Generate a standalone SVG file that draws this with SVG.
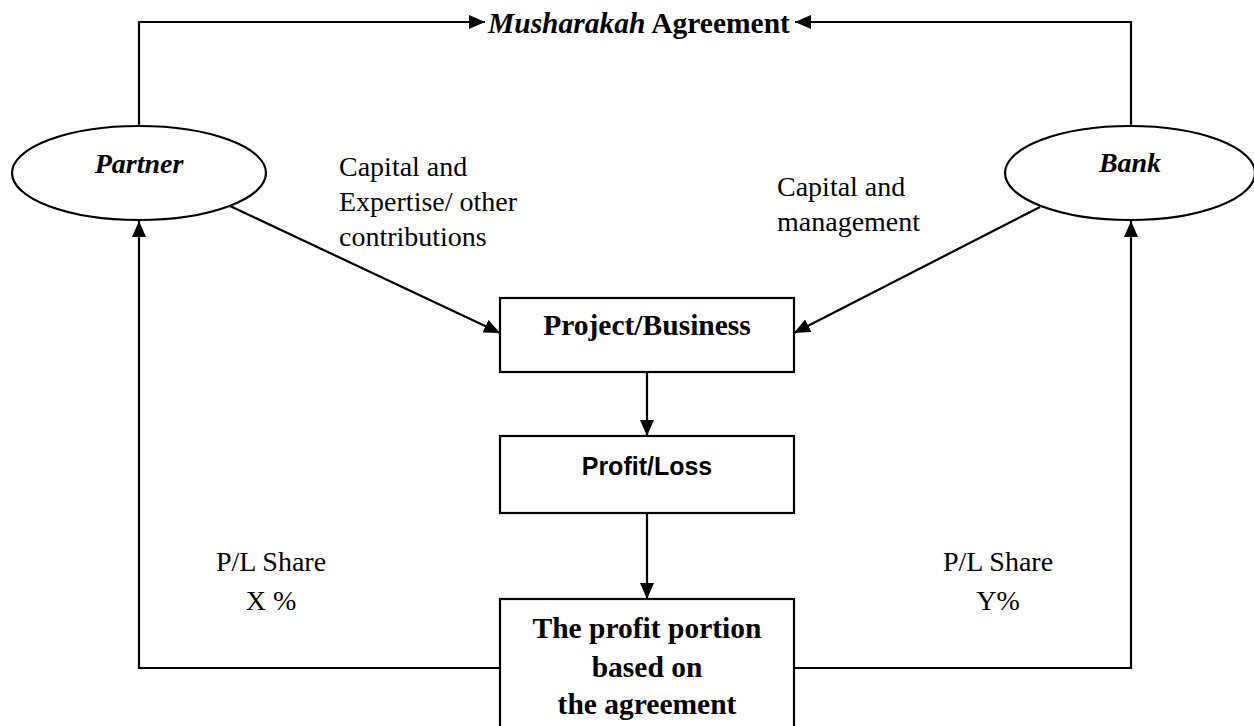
<svg xmlns="http://www.w3.org/2000/svg" width="1254" height="726" viewBox="0 0 1254 726">
  <style>
    .ln { stroke: #000; stroke-width: 2.2; fill: none; }
    .bx { stroke: #000; stroke-width: 2.2; fill: #fff; }
    .serif { font-family: "Liberation Serif", "Times New Roman", serif; font-size: 28px; fill: #000; }
    .b { font-weight: bold; font-size: 29.5px; }
    .bi { font-weight: bold; font-style: italic; }
    .sans { font-family: "Liberation Sans", Arial, sans-serif; font-size: 25px; font-weight: bold; fill: #000; }
  </style>
  <defs>
    <marker id="ah" viewBox="0 0 16 14" refX="16" refY="7" markerWidth="16" markerHeight="14" markerUnits="userSpaceOnUse" orient="auto">
      <path d="M0,0 L16,7 L0,14 Z" fill="#000"/>
    </marker>
  </defs>
  <rect width="1254" height="726" fill="#fff"/>

  <g id="connectors">
    <polyline class="ln" points="139,126 139,22 485,22" marker-end="url(#ah)"/>
    <polyline class="ln" points="1131,126 1131,22 795,22" marker-end="url(#ah)"/>
    <line class="ln" x1="230" y1="206" x2="500" y2="333" marker-end="url(#ah)"/>
    <line class="ln" x1="1040" y1="207" x2="794" y2="333" marker-end="url(#ah)"/>
    <line class="ln" x1="647" y1="372" x2="647" y2="436" marker-end="url(#ah)"/>
    <line class="ln" x1="647" y1="513" x2="647" y2="599" marker-end="url(#ah)"/>
    <polyline class="ln" points="500,668 139,668 139,221" marker-end="url(#ah)"/>
    <polyline class="ln" points="794,668 1131,668 1131,221" marker-end="url(#ah)"/>
  </g>

  <g id="agreement">
    <text class="serif" x="488" y="33" style="font-size:29.5px"><tspan class="bi">Musharakah</tspan><tspan style="font-weight:bold"> Agreement</tspan></text>
  </g>

  <g id="partner">
    <ellipse class="bx" cx="139" cy="173" rx="127" ry="47"/>
    <text class="serif bi" x="139" y="173" text-anchor="middle">Partner</text>
  </g>

  <g id="bank">
    <ellipse class="bx" cx="1130" cy="173" rx="125" ry="47"/>
    <text class="serif bi" x="1130" y="172" text-anchor="middle">Bank</text>
  </g>

  <g id="label-partner-contrib">
    <text class="serif" x="339" y="176">Capital and</text>
    <text class="serif" x="339" y="211">Expertise/ other</text>
    <text class="serif" x="339" y="246">contributions</text>
  </g>

  <g id="label-bank-contrib">
    <text class="serif" x="777" y="196">Capital and</text>
    <text class="serif" x="777" y="231">management</text>
  </g>

  <g id="project">
    <rect class="bx" x="500" y="298" width="294" height="74"/>
    <text class="serif b" x="647" y="335" text-anchor="middle">Project/Business</text>
  </g>

  <g id="profitloss">
    <rect class="bx" x="500" y="436" width="294" height="77"/>
    <text class="sans" x="647" y="475" text-anchor="middle">Profit/Loss</text>
  </g>

  <g id="portion">
    <rect class="bx" x="500" y="599" width="294" height="140"/>
    <text class="serif b" x="647" y="638" text-anchor="middle">The profit portion</text>
    <text class="serif b" x="647" y="677" text-anchor="middle">based on</text>
    <text class="serif b" x="647" y="714" text-anchor="middle">the agreement</text>
  </g>

  <g id="label-x">
    <text class="serif" x="271" y="571" text-anchor="middle">P/L Share</text>
    <text class="serif" x="271" y="610" text-anchor="middle">X %</text>
  </g>

  <g id="label-y">
    <text class="serif" x="998" y="571" text-anchor="middle">P/L Share</text>
    <text class="serif" x="998" y="610" text-anchor="middle">Y%</text>
  </g>
</svg>
